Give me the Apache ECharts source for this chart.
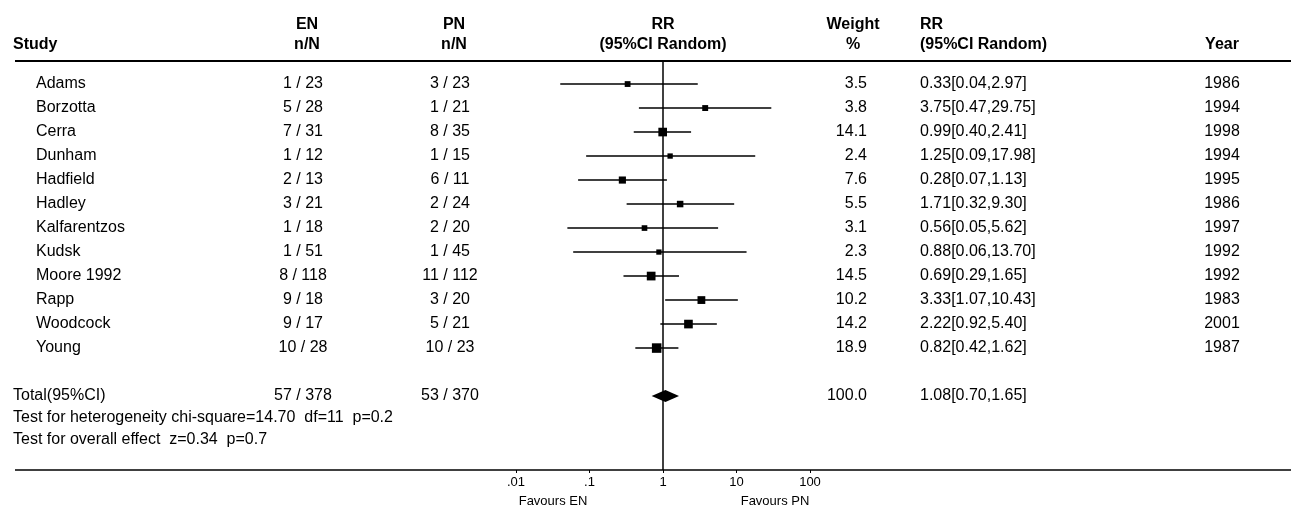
<!DOCTYPE html>
<html>
<head>
<meta charset="utf-8">
<script src="https://cdn.jsdelivr.net/npm/echarts@6/dist/echarts.min.js"></script>
<style>
  html, body { margin: 0; padding: 0; background: #fff; }
  #main { width: 1291px; height: 509px; }
</style>
</head>
<body>
<div id="main"></div>
<script>
// 研究数据
const studies = ['Adams', 'Borzotta', 'Cerra', 'Dunham', 'Hadfield', 'Hadley', 'Kalfarentzos', 'Kudsk', 'Moore 1992', 'Rapp', 'Woodcock', 'Young'];
const enEvents = [1, 5, 7, 1, 2, 3, 1, 1, 8, 9, 9, 10];
const enTotal = [23, 28, 31, 12, 13, 21, 18, 51, 118, 18, 17, 28];
const pnEvents = [3, 1, 8, 1, 6, 2, 2, 1, 11, 3, 5, 10];
const pnTotal = [23, 21, 35, 15, 11, 24, 20, 45, 112, 20, 21, 23];
const rr = [0.33, 3.75, 0.99, 1.25, 0.28, 1.71, 0.56, 0.88, 0.69, 3.33, 2.22, 0.82];
const rrLow = [0.04, 0.47, 0.40, 0.09, 0.07, 0.32, 0.05, 0.06, 0.29, 1.07, 0.92, 0.42];
const rrHigh = [2.97, 29.75, 2.41, 17.98, 1.13, 9.30, 5.62, 13.70, 1.65, 10.43, 5.40, 1.62];
const weights = [3.5, 3.8, 14.1, 2.4, 7.6, 5.5, 3.1, 2.3, 14.5, 10.2, 14.2, 18.9];
const years = [1986, 1994, 1998, 1994, 1995, 1986, 1997, 1992, 1992, 1983, 2001, 1987];

// 合计
const totalEN = [57, 378];
const totalPN = [53, 370];
const totalWeight = 100.0;
const totalRR = [1.08, 0.70, 1.65];
const hetText = 'Test for heterogeneity chi-square=14.70  df=11  p=0.2';
const effText = 'Test for overall effect  z=0.34  p=0.7';

// 坐标轴刻度
const tickValues = [0.01, 0.1, 1, 10, 100];
const tickLabels = ['.01', '.1', '1', '10', '100'];

const FONT = '"Liberation Sans", Arial, sans-serif';
const totalRow = studies.length + 1;

let chart = echarts.init(document.getElementById('main'));

let option = {
        animation: false,
        grid: {
                left: 516,
                width: 294,
                top: 61,
                height: 409
        },
        xAxis: {
                type: 'log',
                logBase: 10,
                min: tickValues[0],
                max: tickValues[tickValues.length - 1],
                interval: 1,
                position: 'bottom',
                axisLine: { show: false, onZero: false },
                splitLine: { show: false },
                axisTick: {
                        show: true,
                        length: 3,
                        lineStyle: { color: '#000', width: 1 }
                },
                axisLabel: {
                        margin: 6,
                        color: '#000',
                        fontSize: 13,
                        fontFamily: FONT,
                        formatter: function (v) {
                                let idx = tickValues.findIndex(t => Math.abs(Math.log10(t) - Math.log10(v)) < 1e-6);
                                return idx >= 0 ? tickLabels[idx] : '';
                        }
                }
        },
        yAxis: {
                type: 'value',
                inverse: true,
                min: -0.96,
                max: 16.08,
                show: false
        },
        series: [{
                type: 'custom',
                clip: false,
                data: studies.map((s, i) => [rr[i], rrLow[i], rrHigh[i], i, weights[i]]),
                encode: { x: [0, 1, 2], y: 3 },
                renderItem: function (params, api) {
                        let row = api.value(3);
                        let c = api.coord([api.value(0), row]);
                        let l = api.coord([api.value(1), row]);
                        let h = api.coord([api.value(2), row]);
                        let size = 3 + 1.5 * Math.sqrt(api.value(4));
                        return {
                                type: 'group',
                                children: [{
                                        type: 'line',
                                        shape: { x1: l[0], y1: c[1], x2: h[0], y2: c[1] },
                                        style: { stroke: '#000', lineWidth: 1.5 }
                                }, {
                                        type: 'rect',
                                        shape: { x: c[0] - size / 2, y: c[1] - size / 2, width: size, height: size },
                                        style: { fill: '#000' }
                                }]
                        };
                },
                markLine: {
                        silent: true,
                        symbol: 'none',
                        label: { show: false },
                        lineStyle: { color: '#000', width: 1.5, type: 'solid' },
                        data: [{ xAxis: 1 }]
                }
        }, {
                type: 'custom',
                clip: false,
                data: [[totalRR[0], totalRR[1], totalRR[2], totalRow]],
                encode: { x: [0, 1, 2], y: 3 },
                renderItem: function (params, api) {
                        let row = api.value(3);
                        let c = api.coord([api.value(0), row]);
                        let l = api.coord([api.value(1), row]);
                        let h = api.coord([api.value(2), row]);
                        return {
                                type: 'polygon',
                                shape: { points: [[l[0], c[1]], [c[0], c[1] - 6], [h[0], c[1]], [c[0], c[1] + 6]] },
                                style: { fill: '#000' }
                        };
                }
        }]
};

chart.setOption(option);

// 文字表格
const txt = (text, x, y, align, bold, size) => ({
        type: 'text',
        x: x,
        y: y,
        silent: true,
        style: {
                text: String(text),
                fill: '#000',
                font: (bold ? 'bold ' : '') + (size || 16) + 'px ' + FONT,
                align: align,
                verticalAlign: 'middle',
                textAlign: align,
                textVerticalAlign: 'middle'
        }
});
const rowY = (r) => chart.convertToPixel({ yAxisIndex: 0 }, r);
const fmtRR = (a, b, c) => a.toFixed(2) + '[' + b.toFixed(2) + ',' + c.toFixed(2) + ']';

let graphic = [];
// 表头
graphic.push(txt('Study', 13, 45, 'left', true));
graphic.push(txt('EN', 307, 25, 'center', true));
graphic.push(txt('n/N', 307, 45, 'center', true));
graphic.push(txt('PN', 454, 25, 'center', true));
graphic.push(txt('n/N', 454, 45, 'center', true));
graphic.push(txt('RR', 663, 25, 'center', true));
graphic.push(txt('(95%CI Random)', 663, 45, 'center', true));
graphic.push(txt('Weight', 853, 25, 'center', true));
graphic.push(txt('%', 853, 45, 'center', true));
graphic.push(txt('RR', 920, 25, 'left', true));
graphic.push(txt('(95%CI Random)', 920, 45, 'left', true));
graphic.push(txt('Year', 1222, 45, 'center', true));

studies.forEach((s, i) => {
        let y = rowY(i);
        graphic.push(txt(s, 36, y, 'left'));
        graphic.push(txt(enEvents[i] + ' / ' + enTotal[i], 303, y, 'center'));
        graphic.push(txt(pnEvents[i] + ' / ' + pnTotal[i], 450, y, 'center'));
        graphic.push(txt(weights[i].toFixed(1), 867, y, 'right'));
        graphic.push(txt(fmtRR(rr[i], rrLow[i], rrHigh[i]), 920, y, 'left'));
        graphic.push(txt(years[i], 1222, y, 'center'));
});

let ty = rowY(totalRow);
graphic.push(txt('Total(95%CI)', 13, ty, 'left'));
graphic.push(txt(totalEN[0] + ' / ' + totalEN[1], 303, ty, 'center'));
graphic.push(txt(totalPN[0] + ' / ' + totalPN[1], 450, ty, 'center'));
graphic.push(txt(totalWeight.toFixed(1), 867, ty, 'right'));
graphic.push(txt(fmtRR(totalRR[0], totalRR[1], totalRR[2]), 920, ty, 'left'));
graphic.push(txt(hetText, 13, ty + 22, 'left'));
graphic.push(txt(effText, 13, ty + 44, 'left'));

// 横线
graphic.push({
        type: 'line', silent: true,
        shape: { x1: 15, y1: 61, x2: 1291, y2: 61 },
        style: { stroke: '#000', lineWidth: 2 }
});
graphic.push({
        type: 'line', silent: true,
        shape: { x1: 15, y1: 470, x2: 1291, y2: 470 },
        style: { stroke: '#000', lineWidth: 1.5 }
});
graphic.push(txt('Favours EN', 553, 501, 'center', false, 13));
graphic.push(txt('Favours PN', 775, 501, 'center', false, 13));

chart.setOption({ graphic: graphic });
</script>
</body>
</html>
